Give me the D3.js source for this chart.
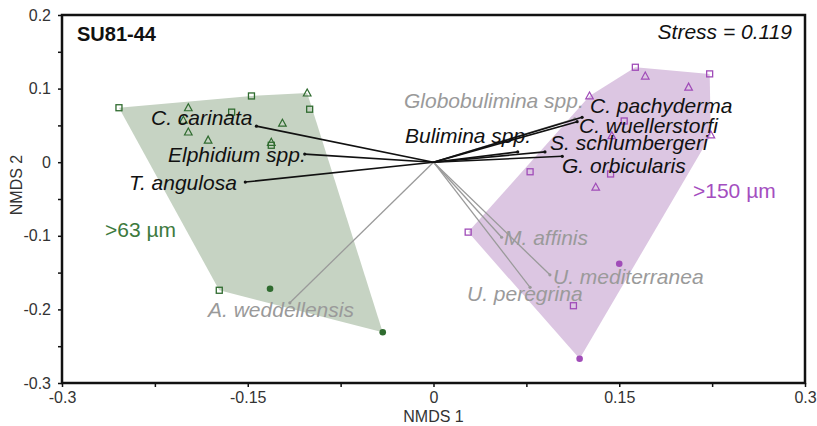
<!DOCTYPE html>
<meta charset="utf-8">
<head>
<script src="https://d3js.org/d3.v7.min.js"></script>
<style>
  body { margin: 0; background: #fff; }
  svg text { font-family: "Liberation Sans", Arial, sans-serif; }
</style>
</head>
<body>
<svg id="nmds" width="817" height="426"></svg>
<script>

// ---- data ----

// species vectors (NMDS 1, NMDS 2)
var species = ["C. carinata", "Elphidium spp.", "T. angulosa", "Bulimina spp.",
               "Globobulimina spp.", "C. pachyderma", "C. wuellerstorfi",
               "S. schlumbergeri", "G. orbicularis", "A. weddellensis",
               "M. affinis", "U. mediterranea", "U. peregrina"];
var vecX = [-0.143, -0.104, -0.152, 0.068, 0.114, 0.120, 0.116, 0.090, 0.104, -0.116, 0.055, 0.094, 0.078];
var vecY = [0.049, 0.011, -0.027, 0.014, 0.059, 0.061, 0.055, 0.014, 0.008, -0.191, -0.102, -0.153, -0.170];
var vecSignif = [1, 1, 1, 1, 0, 1, 1, 1, 1, 0, 0, 0, 0];   // 1 = black, 0 = grey

// samples >63 µm
var smallX = [-0.254, -0.147, -0.100, -0.163, -0.131, -0.173,
              -0.102, -0.198, -0.198, -0.182, -0.122, -0.131, -0.202,
              -0.132, -0.041];
var smallY = [0.074, 0.090, 0.072, 0.068, 0.023, -0.174,
              0.094, 0.074, 0.041, 0.030, 0.053, 0.027, 0.057,
              -0.172, -0.231];
var smallShape = ["s", "s", "s", "s", "s", "s",
                  "t", "t", "t", "t", "t", "t", "t",
                  "c", "c"];

// samples >150 µm
var largeX = [0.163, 0.223, 0.154, 0.078, 0.143, 0.028, 0.113,
              0.171, 0.206, 0.126, 0.144, 0.224, 0.131,
              0.150, 0.118];
var largeY = [0.129, 0.120, 0.056, -0.013, -0.016, -0.095, -0.195,
              0.117, 0.102, 0.090, 0.036, 0.037, -0.034,
              -0.138, -0.267];
var largeShape = ["s", "s", "s", "s", "s", "s", "s",
                  "t", "t", "t", "t", "t", "t",
                  "c", "c"];

var xTicks = [-0.3, -0.15, 0, 0.15, 0.3];
var yTicks = [-0.3, -0.2, -0.1, 0, 0.1, 0.2];

// ---- layout ----
var svg = d3.select("#nmds");
var margin = {left: 62, right: 12, top: 15, bottom: 43};
var width = 817, height = 426;

var x = d3.scaleLinear().domain([-0.3, 0.3]).range([margin.left, width - margin.right]);
var y = d3.scaleLinear().domain([-0.3, 0.2]).range([height - margin.bottom, margin.top]);

var GREEN = "#2f6b2f", GREEN_FILL = "#c6d3c3";
var PURPLE = "#a04cb8", PURPLE_FILL = "#dcc6e2";
var GREY = "#9a9a9a";

// label anchors in pixels (left x, baseline y)
var labelPos = {
  "C. carinata": [151, 125], "Elphidium spp.": [168, 162], "T. angulosa": [129, 190],
  "Bulimina spp.": [405, 143], "Globobulimina spp.": [404, 108],
  "C. pachyderma": [590, 113], "C. wuellerstorfi": [579, 133],
  "S. schlumbergeri": [550, 150], "G. orbicularis": [562, 173],
  "A. weddellensis": [208, 317], "M. affinis": [504, 245],
  "U. mediterranea": [553, 284], "U. peregrina": [467, 301]
};

// ---- hulls ----
function hullOf(xs, ys) {
  return d3.polygonHull(xs.map(function(v, i) { return [x(v), y(ys[i])]; }));
}
svg.append("path")
  .attr("d", "M" + hullOf(smallX, smallY).join("L") + "Z")
  .attr("fill", GREEN_FILL);
svg.append("path")
  .attr("d", "M" + hullOf(largeX, largeY).join("L") + "Z")
  .attr("fill", PURPLE_FILL);

// ---- points ----
function drawPoints(xs, ys, shapes, col) {
  var g = svg.append("g");
  xs.forEach(function(v, i) {
    var px = x(v), py = y(ys[i]);
    if (shapes[i] == "s") {
      g.append("rect").attr("x", px - 3).attr("y", py - 3).attr("width", 6).attr("height", 6)
        .attr("fill", "none").attr("stroke", col).attr("stroke-width", 1.3);
    } else if (shapes[i] == "t") {
      g.append("path").attr("d", "M" + px + "," + (py - 4) + "L" + (px + 3.8) + "," + (py + 3) + "L" + (px - 3.8) + "," + (py + 3) + "Z")
        .attr("fill", "none").attr("stroke", col).attr("stroke-width", 1.2);
    } else {
      g.append("circle").attr("cx", px).attr("cy", py).attr("r", 3.3).attr("fill", col);
    }
  });
}
drawPoints(smallX, smallY, smallShape, GREEN);
drawPoints(largeX, largeY, largeShape, PURPLE);

// ---- vectors ----
var order = d3.range(species.length).sort(function(a, b) { return vecSignif[a] - vecSignif[b]; });
var vg = svg.append("g");
order.forEach(function(i) {
  var col = vecSignif[i] ? "#111" : GREY;
  vg.append("line")
    .attr("x1", x(0)).attr("y1", y(0))
    .attr("x2", x(vecX[i])).attr("y2", y(vecY[i]))
    .attr("stroke", col).attr("stroke-width", vecSignif[i] ? 1.6 : 1.3);
  vg.append("circle").attr("cx", x(vecX[i])).attr("cy", y(vecY[i])).attr("r", 1.6).attr("fill", col);
});

// species labels
species.forEach(function(s, i) {
  svg.append("text")
    .attr("x", labelPos[s][0]).attr("y", labelPos[s][1])
    .attr("font-size", 21).attr("font-style", "italic")
    .attr("fill", vecSignif[i] ? "#111" : GREY)
    .text(s);
});

// group labels
svg.append("text").attr("x", 105).attr("y", 237).attr("font-size", 21).attr("fill", "#3d7a3d").text(">63 µm");
svg.append("text").attr("x", 693).attr("y", 198).attr("font-size", 21).attr("fill", "#a44ebf").text(">150 µm");

// ---- axes ----
var xAxis = d3.axisBottom(x).tickValues(d3.range(-0.3, 0.3001, 0.075)).tickSize(4)
  .tickFormat(function(d) {
    var r = Math.round(d * 1000) / 1000;
    return xTicks.indexOf(r) >= 0 ? String(r) : "";
  });
var yAxis = d3.axisLeft(y).tickValues(d3.range(-0.3, 0.2001, 0.05)).tickSize(4)
  .tickFormat(function(d) {
    var r = Math.round(d * 1000) / 1000;
    return yTicks.indexOf(r) >= 0 ? String(r) : "";
  });

var gx = svg.append("g").attr("transform", "translate(0," + y.range()[0] + ")").call(xAxis);
var gy = svg.append("g").attr("transform", "translate(" + x.range()[0] + ",0)").call(yAxis);
[gx, gy].forEach(function(g) {
  g.select(".domain").remove();
  g.selectAll(".tick line").attr("stroke", "#111").attr("stroke-width", 1.5);
  g.selectAll(".tick text").attr("font-size", 16).attr("fill", "#333")
    .attr("font-family", "'Liberation Sans', Arial, sans-serif");
});
gx.selectAll(".tick text").attr("dy", "0.82em");
gy.selectAll(".tick text").attr("dx", "-0.25em");

// frame
svg.append("rect")
  .attr("x", x.range()[0]).attr("y", y.range()[1])
  .attr("width", x.range()[1] - x.range()[0]).attr("height", y.range()[0] - y.range()[1])
  .attr("fill", "none").attr("stroke", "#111").attr("stroke-width", 2.5);

// titles
svg.append("text").attr("x", 77).attr("y", 41).attr("font-size", 20).attr("font-weight", "bold")
  .attr("fill", "#111").text("SU81-44");
svg.append("text").attr("x", 792).attr("y", 39).attr("font-size", 21).attr("font-style", "italic")
  .attr("text-anchor", "end").attr("fill", "#111").text("Stress = 0.119");

svg.append("text").attr("x", (x.range()[0] + x.range()[1]) / 2).attr("y", 422)
  .attr("text-anchor", "middle").attr("font-size", 16).attr("fill", "#333").text("NMDS 1");
svg.append("text").attr("transform", "translate(22,185) rotate(-90)")
  .attr("text-anchor", "middle").attr("font-size", 16).attr("fill", "#333").text("NMDS 2");

</script>
</body>
</html>
